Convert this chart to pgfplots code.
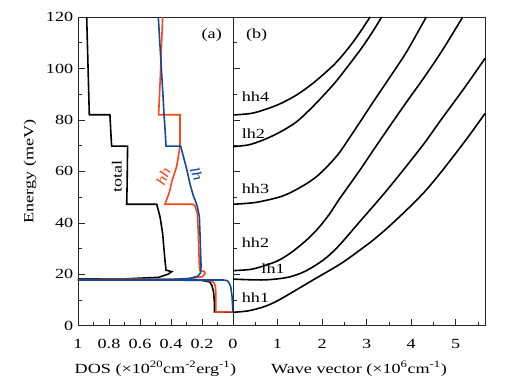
\documentclass[border=0pt]{standalone}
\usepackage{fontspec}
\setmainfont{Liberation Serif}[FakeStretch=1.3]
\usepackage{pgfplots}
\pgfplotsset{compat=1.18}
\definecolor{hhred}{RGB}{250,70,25}
\definecolor{lhblue}{RGB}{15,75,150}
\begin{document}
\fontsize{14}{16}\selectfont
\begin{tikzpicture}
\useasboundingbox (-78bp,-56.3bp) rectangle (431bp,325.7bp);
\pgfplotsset{
 common/.style={scale only axis, height=308.7bp, ymin=0, ymax=120,
  axis line style={line width=0.8pt, black!85},
  tick style={black!85, line width=0.6pt}, tick align=inside,
  major tick length=7bp, minor tick length=4bp,
  ytick pos=left, xtick pos=bottom,
  /pgf/number format/assume math mode=true,
  label style={font=\fontsize{14}{16}\selectfont},
  tick label style={font=\fontsize{14}{16}\selectfont},
  xticklabel style={yshift=-8.5bp},
  x label style={at={(axis description cs:0.5,0)}, anchor=center, yshift=-43bp},
  every axis plot/.append style={line width=1.6pt}},
}
% ---------------- (a) DOS ----------------
\begin{axis}[common, at={(0,0)}, anchor=south west, width=155bp,
  x dir=reverse, xmin=0, xmax=1,
  xtick={0,0.2,0.4,0.6,0.8,1}, xticklabels={0,0.2,0.4,0.6,0.8,1},
  minor xtick={0.1,0.3,0.5,0.7,0.9},
  ytick={0,20,40,60,80,100,120}, minor ytick={10,30,50,70,90,110},
  xlabel={DOS (×10\textsuperscript{20}cm\textsuperscript{-2}erg\textsuperscript{-1})},
  ylabel={Energy (meV)}]
\addplot[black] coordinates {
 (0,5.3) (0.12,5.4) (0.12,9) (0.125,13) (0.135,15.5) (0.15,17) (0.2,17.6) (0.4,17.75)
 (3,17.8) (0.7,18.2) (0.48,18.8) (0.42,20.0) (0.395,21.0) (0.432,21.6) (0.439,25.5)
 (0.454,35.9) (0.471,42.4) (0.492,47.2) (0.686,47.2) (0.683,55) (0.68,69.8)
 (0.783,69.8) (0.788,75) (0.794,82) (0.927,82) (0.935,100) (0.944,120)};
\addplot[hhred] coordinates {
 (0,5.4) (0.11,5.4) (0.11,12) (0.113,15) (0.12,16.5) (0.14,17.4) (0.2,17.7)
 (3,17.8) (0.3,18.1) (0.2,19) (0.18,20.3) (0.185,21.1) (0.213,21.4) (0.217,23)
 (0.224,36) (0.23,43.7) (0.245,46.5) (0.256,47.2) (0.439,47.2) (0.41,52) (0.395,56)
 (0.363,62) (0.342,69.8) (0.342,82) (0.48,82) (0.47,95) (0.454,120)};
\addplot[lhblue] coordinates {
 (0,5.2) (0.002,7) (0.006,11.3) (0.015,15.2) (0.027,16.8) (0.037,17.5) (0.06,17.75)
 (3,17.8) (0.4,17.95) (0.28,18.4) (0.225,19.3) (0.21,20.5) (0.206,23) (0.21,30)
 (0.213,35.9) (0.217,42.4) (0.23,46.3) (0.245,48.9) (0.256,50.5) (0.277,55)
 (0.299,61) (0.338,69.8) (0.432,69.8) (0.44,78) (0.445,82) (0.45,87.7) (0.482,120)};
\node[rotate=90, inner sep=0pt] at (axis cs:0.75,58) {total};
\node[rotate=68, text=hhred, inner sep=0pt] at (axis cs:0.45,58) {\itshape hh};
\node[rotate=-68, text=lhblue, inner sep=0pt] at (axis cs:0.235,59) {\itshape lh};
\node at (axis cs:0.137,113) {(a)};
\end{axis}
% ---------------- (b) dispersion ----------------
\begin{axis}[common, at={(155bp,0)}, anchor=south west, width=252bp,
  xmin=0, xmax=5.66,
  xtick={1,2,3,4,5}, minor xtick={0.5,1.5,2.5,3.5,4.5,5.5},
  ytick={0,20,40,60,80,100,120}, yticklabels={}, minor ytick={10,30,50,70,90,110},
  xlabel={Wave vector (×10\textsuperscript{6}cm\textsuperscript{-1})}]
\addplot[black, smooth] coordinates {
 (0,5.2) (0.35,5.8) (0.7,7.4) (1.0,9.7) (1.43,14) (1.8,17.8) (2.18,21.6) (2.5,25)
 (2.85,29.4) (3.15,33.3) (3.5,38.5) (3.9,45) (4.3,52) (4.65,59.2) (5.06,68.3)
 (5.35,75) (5.66,82.5)};
\addplot[black, smooth] coordinates {
 (0,18.1) (0.4,17.85) (0.7,17.8) (1.0,18.2) (1.28,19) (1.55,20.6) (1.8,22.9)
 (2.1,26.5) (2.4,31.5) (2.85,40.5) (3.4,51.5) (3.87,61.5) (4.3,71) (4.65,79.5)
 (5.2,92.5) (5.66,103.9)};
\addplot[black, smooth] coordinates {
 (0,21.4) (0.4,21.9) (0.7,23.3) (1.0,25.2) (1.28,28.1) (1.6,32.5) (1.88,37.2)
 (2.15,43) (2.4,49.5) (2.7,56.8) (2.93,62.5) (3.15,68.2) (3.53,77.8) (3.9,87)
 (4.28,96.2) (4.7,107) (5.16,120)};
\addplot[black, smooth] coordinates {
 (0,47.2) (0.5,47.9) (1.0,49.8) (1.3,51.8) (1.66,55.3) (1.9,58.3) (2.15,62.5)
 (2.4,67.5) (2.75,76.5) (3.15,87) (3.5,96) (3.9,106.5) (4.34,120)};
\addplot[black, smooth] coordinates {
 (0,69.6) (0.35,70.3) (0.68,72.2) (1.05,75.2) (1.43,79.3) (1.8,85.3) (2.18,92.3)
 (2.4,96.8) (2.85,107) (3.1,113.3) (3.34,120)};
\addplot[black, smooth] coordinates {
 (0,81.9) (0.4,82.5) (0.68,83.8) (1.05,86.2) (1.43,89.7) (1.8,94.3) (2.18,100)
 (2.4,103.9) (2.65,109.2) (2.85,114) (3.08,120)};
\node[anchor=west, inner sep=0pt] at (axis cs:0.195,89) {hh4};
\node[anchor=west, inner sep=0pt] at (axis cs:0.195,74.8) {lh2};
\node[anchor=west, inner sep=0pt] at (axis cs:0.195,53.4) {hh3};
\node[anchor=west, inner sep=0pt] at (axis cs:0.195,32.4) {hh2};
\node[inner sep=0pt] at (axis cs:0.9,22) {lh1};
\node[anchor=west, inner sep=0pt] at (axis cs:0.195,11) {hh1};
\node at (axis cs:0.53,113) {(b)};
\end{axis}
\end{tikzpicture}
\end{document}
